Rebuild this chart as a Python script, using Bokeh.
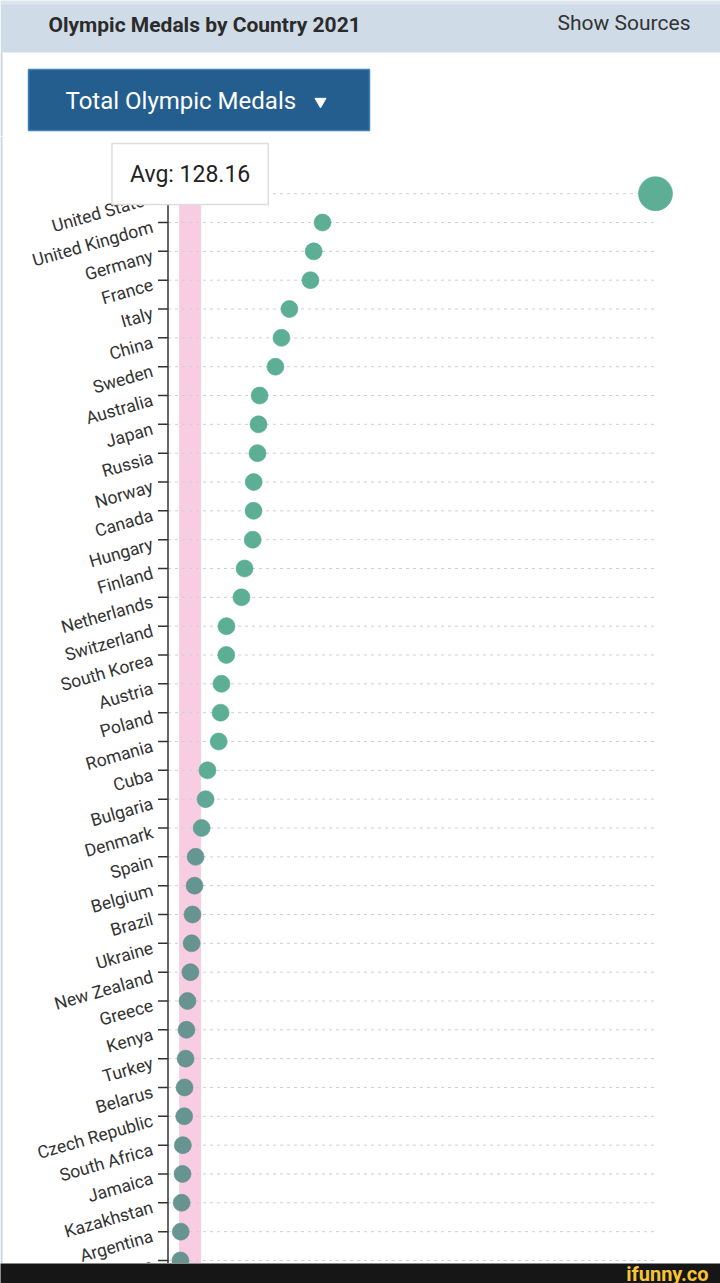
import math

from bokeh.core.properties import value
from bokeh.embed import file_html
from bokeh.layouts import column
from bokeh.models import ColumnDataSource, Label, Range1d, Span
from bokeh.plotting import figure
from bokeh.resources import INLINE

# ---- data -------------------------------------------------------------
chart_title = "Olympic Medals by Country 2021"
sources_text = "Show Sources"
metric_label = "Total Olympic Medals"

countries = [
    "United States", "United Kingdom", "Germany", "France", "Italy", "China",
    "Sweden", "Australia", "Japan", "Russia", "Norway", "Canada", "Hungary",
    "Finland", "Netherlands", "Switzerland", "South Korea", "Austria", "Poland",
    "Romania", "Cuba", "Bulgaria", "Denmark", "Spain", "Belgium", "Brazil",
    "Ukraine", "New Zealand", "Greece", "Kenya", "Turkey", "Belarus",
    "Czech Republic", "South Africa", "Jamaica", "Kazakhstan", "Argentina", "Iran",
]
medals = [
    2827, 896, 845, 826, 704, 658, 623, 531, 525, 519,
    497, 496, 491, 444, 426, 339, 338, 310, 305, 294,
    229, 218, 195, 160, 154, 142, 137, 130, 113, 107,
    102, 96, 94, 86, 84, 79, 74, 72,
]
avg_medals = 128.16

# ---- styling helpers --------------------------------------------------
FONT = value("Roboto")
TEAL = (83, 171, 142)
SLATE = (95, 143, 140)


def mix(a, b, t):
    return "#%02x%02x%02x" % tuple(round(a[i] + (b[i] - a[i]) * t) for i in range(3))


def dot_color(v):
    # dots close to the average fade from teal to a muted slate
    t = min(max((v - 150) / 90.0, 0.0), 1.0)
    return mix(SLATE, TEAL, t)


def bare(fig):
    fig.grid.visible = False
    fig.outline_line_color = None
    return fig


W = 720
TOP_H = 136
MAIN_H = 1127
FOOT_H = 20

# ---- header + selector ------------------------------------------------
top = bare(figure(width=W, height=TOP_H, x_range=Range1d(0, W), y_range=Range1d(TOP_H, 0),
                  min_border=0, x_axis_location=None, y_axis_location=None,
                  toolbar_location=None, output_backend="svg", frame_align=False,
                  background_fill_color="white", border_fill_color="white"))

top.quad(left=[0], right=[W], top=[0], bottom=[52], fill_color="#cfdbe7", line_color=None)
top.quad(left=[0], right=[W], top=[0], bottom=[4], fill_color="#dce5ee", line_color=None)
top.quad(left=[0], right=[2], top=[52], bottom=[TOP_H], fill_color="#c9d5de", line_color=None)
top.text(x=[48], y=[24], text=[chart_title], text_font=FONT, text_font_style="bold",
         text_font_size="21px", text_color="#2b2b2b", text_baseline="middle")
top.text(x=[690], y=[22], text=[sources_text], text_font=FONT, text_font_size="21px",
         text_color="#333333", text_baseline="middle", text_align="right")

top.quad(left=[28], right=[369], top=[69], bottom=[130], fill_color="#245e8e",
         line_color="#3f82b8", line_width=1.5)
top.text(x=[65], y=[100], text=[metric_label], text_font=FONT, text_font_size="24px",
         text_color="white", text_baseline="middle")
top.scatter(x=[320], y=[101], marker="inverted_triangle", size=11,
            fill_color="white", line_color="white")

# ---- main dot chart ---------------------------------------------------
n = len(countries)
rows = list(range(n))
top_val = max(medals)
sizes = [34 if v == top_val else 17 for v in medals]
colors = [dot_color(v) for v in medals]
src = ColumnDataSource(dict(country=countries, medals=medals, row=rows,
                            size=sizes, color=colors))

# horizontal scale: zero sits at the axis (x=167.5px), the leader at 655px
AXIS_PX, LEADER_PX = 167.5, 655.0
ppu = (LEADER_PX - AXIS_PX) / top_val
x_start = -AXIS_PX / ppu
x_end = (W - AXIS_PX) / ppu

p = bare(figure(width=W, height=MAIN_H,
                x_range=Range1d(x_start, x_end), y_range=Range1d(n - 0.895, -1.984),
                min_border=0, x_axis_location=None, y_axis_location=None,
                toolbar_location=None, output_backend="svg", frame_align=False,
                background_fill_color="white", border_fill_color="white"))

# card edge on the left
p.add_layout(Span(location=x_start + 1 / ppu, dimension="height", line_color="#c9d5de",
                  line_width=2, level="underlay"))

# average band
p.segment(x0=[avg_medals], y0=[-0.7], x1=[avg_medals], y1=[n], line_color="#f8cde1",
          line_width=22, level="underlay")

# dashed row guides running out to the largest value
p.segment(x0=[0] * n, y0=rows, x1=[top_val] * n, y1=rows,
          line_color="#cfcfcf", line_width=1, line_dash="3 4")

# category axis: line, ticks and slanted labels
tick_len = 10 / ppu
p.segment(x0=[0], y0=[-0.7], x1=[0], y1=[n], line_color="#333333", line_width=1.5)
p.segment(x0=[-tick_len] * n, y0=rows, x1=[0] * n, y1=rows,
          line_color="#333333", line_width=1.5)
p.text(x=[-(tick_len + 5.5 / ppu)] * n, y=rows, text=countries, angle=math.radians(16),
       text_font=FONT, text_font_size="17.5px", text_color="#333333",
       text_align="right", text_baseline="middle", y_offset=4)

p.scatter(x="medals", y="row", size="size", fill_color="color", line_color="color",
          line_alpha=0.6, fill_alpha=0.95, source=src)

p.add_layout(Label(x=avg_medals, y=-0.683, text="Avg: %.2f" % avg_medals,
                   text_font="Roboto", text_font_size="23px", text_color="#222222",
                   text_align="center", text_baseline="middle",
                   background_fill_color="white", background_fill_alpha=1.0,
                   border_line_color="#dddddd", border_line_width=1.5,
                   padding=dict(left=18, right=18, top=17, bottom=17)))

# ---- footer strip -----------------------------------------------------
foot = bare(figure(width=W, height=FOOT_H, x_range=Range1d(0, W), y_range=Range1d(FOOT_H, 0),
                   min_border=0, x_axis_location=None, y_axis_location=None,
                   toolbar_location=None, output_backend="svg", frame_align=False,
                   background_fill_color="#161616", border_fill_color="#161616"))
foot.text(x=[708], y=[10], text=["ifunny.co"], text_font=FONT, text_font_style="bold",
          text_font_size="20px", text_color="#f7c531", text_align="right",
          text_baseline="middle")

layout = column(top, p, foot, spacing=0)
open("out.html", "w").write(file_html(layout, INLINE))
